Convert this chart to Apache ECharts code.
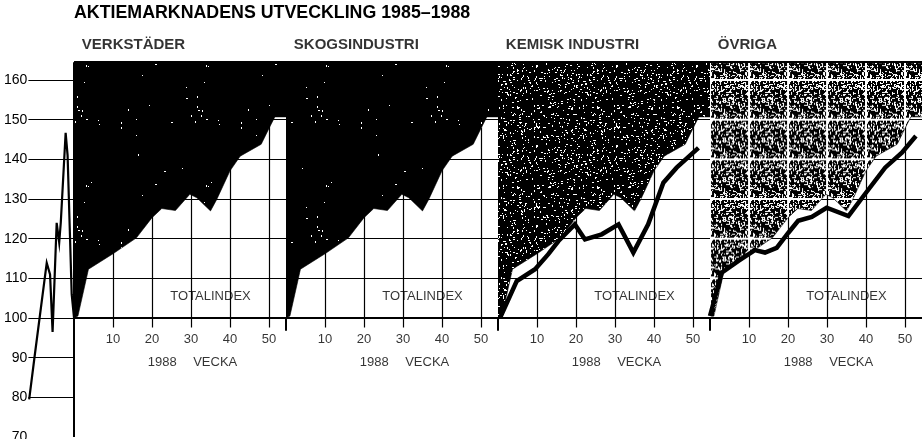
<!DOCTYPE html>
<html>
<head>
<meta charset="utf-8">
<script src="https://cdn.jsdelivr.net/npm/echarts@6/dist/echarts.min.js"></script>
<style>
  html, body { margin: 0; padding: 0; background: #fff; }
  #chart { width: 922px; height: 439px; }
</style>
</head>
<body>
<div id="chart"></div>
<script>
// paneler, en per bransch
const panelNames = ['VERKSTÄDER', 'SKOGSINDUSTRI', 'KEMISK INDUSTRI', 'ÖVRIGA']
const PANEL_SPAN = 54.36   // veckor per panel på den gemensamma x-axeln

// totalindex 1988 (samma kurva i alla paneler)
const totalWeeks = [0, 1, 3.7, 10, 16, 20, 22.5, 26, 29.7, 31.5, 35, 36.6, 40, 42.6, 48, 50.3, 51.5, 54.36]
const totalIndex = [100, 100.5, 112.3, 116.2, 120.2, 125.3, 127.6, 127.1, 131.2, 130.3, 127, 129.9, 137.1, 140.8, 143.8, 148.4, 150.7, 150.7]

// kemisk industri 1988
const kemiWeeks = [0.5, 4.8, 9.5, 12.9, 15.5, 19.7, 22.3, 26.6, 30.9, 34.7, 38.5, 42.4, 45.8, 51.4]
const kemiIndex = [100, 109.3, 112.3, 116.1, 119.4, 123.6, 119.8, 121.1, 123.6, 116.5, 123.6, 134.1, 137.9, 142.9]

// övriga 1988
const ovrigaWeeks = [0, 3, 7.3, 11.5, 14.1, 17.1, 20.1, 22.6, 26.1, 29.9, 35.5, 39.7, 44.9, 49.2, 52.8]
const ovrigaIndex = [100.5, 111.4, 114.4, 117.1, 116.5, 117.7, 121.5, 124.5, 125.5, 127.8, 125.7, 131.2, 137.9, 141.7, 145.9]

// 1985–1987, komprimerat före vecka 0
const historyWeeks = [-11.5, -10.2, -7.0, -6.15, -5.5, -4.45, -3.8, -3.4, -2.15, -1.65, -0.6, 0]
const historyIndex = [79.5, 89.6, 113.9, 111, 96.5, 124, 119, 124, 146.7, 141, 106, 100]

const weekTicks = [10, 20, 30, 40, 50]
const gridLevels = [100, 110, 120, 130, 140, 150, 160]
const leftLevels = [80, 90]

const X_MIN = -11.7
const X_MAX = 4 * PANEL_SPAN
const Y_MIN = 70
const Y_MAX = 164.5
const font = "'Liberation Sans', Arial, sans-serif"

// enkel deterministisk brusgenerator för rastret
function rng(seed) {
  return function () {
    seed = (seed + 0x6D2B79F5) | 0
    let t = Math.imul(seed ^ (seed >>> 15), 1 | seed)
    t = (t + Math.imul(t ^ (t >>> 7), 61 | t)) ^ t
    return ((t ^ (t >>> 14)) >>> 0) / 4294967296
  }
}

function speckle(w, h, count, seed, maxLen, gridLines) {
  const c = document.createElement('canvas')
  c.width = w
  c.height = h
  const ctx = c.getContext('2d')
  ctx.fillStyle = '#000'
  ctx.fillRect(0, 0, w, h)
  ctx.fillStyle = '#fff'
  const r = rng(seed)
  for (let i = 0; i < count; i++) {
    const x = Math.floor(r() * w)
    const y = Math.floor(r() * h)
    const horiz = r() < 0.5
    const len = 1 + Math.floor(r() * maxLen)
    ctx.fillRect(x, y, horiz ? len : 1, horiz ? 1 : len)
  }
  if (gridLines) {
    ctx.fillRect(0, 0, 2, h)
    ctx.fillRect(0, 0, w, 2)
  }
  return c
}

const darkTile = speckle(120, 120, 28, 7, 2, false)
const kemiTile = speckle(80, 80, 420, 11, 2, false)
const ovrigaTile = speckle(39, 40, 300, 23, 3, true)

const fills = [
  { image: darkTile, repeat: 'repeat' },
  { image: darkTile, repeat: 'repeat' },
  { image: kemiTile, repeat: 'repeat' },
  { image: ovrigaTile, repeat: 'repeat' }
]

// rutnät
const gridSegments = []
gridLevels.forEach(v => gridSegments.push({ coords: [[X_MIN, v], [X_MAX, v]] }))
leftLevels.forEach(v => gridSegments.push({ coords: [[X_MIN, v], [0, v]] }))
for (let p = 0; p < 4; p++) {
  weekTicks.forEach(w => {
    gridSegments.push({ coords: [[p * PANEL_SPAN + w, 97.6], [p * PANEL_SPAN + w, Y_MAX]] })
  })
}

// axlar
const axisSegments = [
  { coords: [[0, Y_MIN], [0, Y_MAX]] },
  { coords: [[0, 100], [X_MAX, 100]] },
  { coords: [[0, Y_MAX], [X_MAX, Y_MAX]] }
]
for (let p = 1; p < 4; p++) {
  axisSegments.push({ coords: [[p * PANEL_SPAN, 96.8], [p * PANEL_SPAN, 100]] })
}

// texter
const titleLabels = panelNames.map((n, p) => ({ value: [p * PANEL_SPAN + 2, 168.8], name: n }))
const totalLabels = panelNames.map((n, p) => ({ value: [p * PANEL_SPAN + 35, 105.5], name: 'TOTALINDEX' }))
const weekLabels = []
const veckaLabels = []
for (let p = 0; p < 4; p++) {
  weekTicks.forEach(w => weekLabels.push({ value: [p * PANEL_SPAN + w, 94.7], name: String(w) }))
  veckaLabels.push({ value: [p * PANEL_SPAN + 22.6, 88.7], name: '1988' })
  veckaLabels.push({ value: [p * PANEL_SPAN + 36.2, 88.7], name: 'VECKA' })
}

function textSeries(data, size, bold, align) {
  return {
    type: 'scatter',
    symbolSize: 0,
    clip: false,
    silent: true,
    z: 10,
    data: data,
    label: {
      show: true,
      position: 'inside',
      align: align,
      verticalAlign: 'middle',
      formatter: p => p.name,
      color: '#000',
      fontFamily: font,
      fontSize: size,
      fontWeight: bold ? 'bold' : 'normal'
    }
  }
}

function buildSeries() {
  const series = []
  series.push({
    type: 'lines',
    coordinateSystem: 'cartesian2d',
    z: 1,
    silent: true,
    clip: false,
    lineStyle: { color: '#000', width: 1.2, opacity: 1, curveness: 0 },
    data: gridSegments
  })
  panelNames.forEach((name, p) => {
    series.push({
      id: 'fill' + p,
      name: name,
      type: 'line',
      z: 2,
      symbol: 'none',
      silent: true,
      data: totalWeeks.map((w, i) => [p * PANEL_SPAN + w, totalIndex[i]]),
      lineStyle: { width: 0.6, color: '#000' },
      areaStyle: { origin: 'end', color: fills[p], opacity: 1 }
    })
  })
  series.push({
    type: 'line',
    z: 4,
    symbol: 'none',
    silent: true,
    clip: false,
    data: historyWeeks.map((w, i) => [w, historyIndex[i]]),
    lineStyle: { width: 2.2, color: '#000', join: 'miter' }
  })
  series.push({
    type: 'line',
    z: 4,
    symbol: 'none',
    silent: true,
    data: kemiWeeks.map((w, i) => [2 * PANEL_SPAN + w, kemiIndex[i]]),
    lineStyle: { width: 4.5, color: '#000', join: 'miter' }
  })
  series.push({
    type: 'line',
    z: 4,
    symbol: 'none',
    silent: true,
    data: ovrigaWeeks.map((w, i) => [3 * PANEL_SPAN + w, ovrigaIndex[i]]),
    lineStyle: { width: 4.5, color: '#000', join: 'miter' }
  })
  series.push({
    type: 'lines',
    coordinateSystem: 'cartesian2d',
    z: 6,
    silent: true,
    clip: false,
    lineStyle: { color: '#000', width: 2, opacity: 1, curveness: 0 },
    data: axisSegments
  })
  series.push(textSeries(titleLabels, 15, true, 'left'))
  series.push(textSeries(totalLabels, 13, false, 'center'))
  series.push(textSeries(weekLabels, 13, false, 'center'))
  series.push(textSeries(veckaLabels, 13, false, 'center'))
  return series
}

const chart = echarts.init(document.getElementById('chart'), null, { renderer: 'canvas' })

const option = {
  animation: false,
  backgroundColor: '#fff',
  title: {
    text: 'AKTIEMARKNADENS UTVECKLING 1985–1988',
    left: 74,
    top: 4,
    padding: 0,
    textStyle: { fontFamily: font, fontSize: 17.8, fontWeight: 'bold', color: '#000' }
  },
  grid: { left: 28.4, right: 0, top: 62.15, bottom: 2, outerBoundsMode: 'none', containLabel: false },
  xAxis: { type: 'value', min: X_MIN, max: X_MAX, show: false },
  yAxis: {
    type: 'value',
    min: Y_MIN,
    max: Y_MAX,
    interval: 10,
    axisLine: { show: false },
    axisTick: { show: false },
    splitLine: { show: false },
    axisLabel: {
      margin: 1,
      color: '#000',
      fontFamily: font,
      fontSize: 14,
      formatter: v => (v % 10 === 0 ? String(v) : '')
    }
  },
  series: buildSeries()
}

chart.setOption(option)

// rikta in rutnätet i ÖVRIGA-rastret mot axlarnas skalor
const a = chart.convertToPixel({ gridIndex: 0 }, [3 * PANEL_SPAN, 160])
const b = chart.convertToPixel({ gridIndex: 0 }, [3 * PANEL_SPAN + 10, 150])
chart.setOption({
  series: [{
    id: 'fill3',
    areaStyle: {
      origin: 'end',
      opacity: 1,
      color: {
        image: ovrigaTile,
        repeat: 'repeat',
        x: a[0] - 1,
        y: a[1] - 1,
        scaleX: (b[0] - a[0]) / 39,
        scaleY: (b[1] - a[1]) / 40
      }
    }
  }]
})
</script>
</body>
</html>
